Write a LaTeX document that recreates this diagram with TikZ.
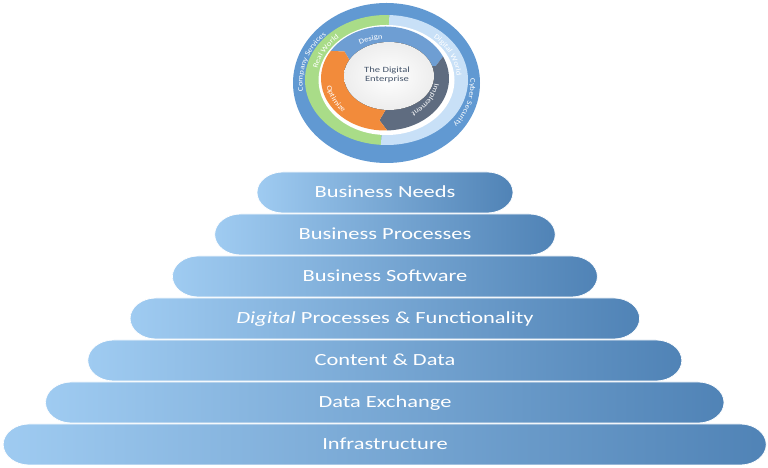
\documentclass[tikz,border=0pt]{standalone}
\usepackage{fontspec}
\setmainfont{Carlito}[FakeStretch=1.32]
\newfontfamily\ringfont{Carlito}[FakeStretch=1.2]
\usetikzlibrary{calc,decorations.text}
\definecolor{pl}{HTML}{9FCBF1}
\definecolor{pd}{HTML}{5083B6}
\definecolor{ringblue}{HTML}{6199D2}
\definecolor{ringgreen}{HTML}{A9DC88}
\definecolor{ringlight}{HTML}{C8E0F7}
\definecolor{designblue}{HTML}{6E9ED3}
\definecolor{implgrey}{HTML}{5F6C80}
\definecolor{optorange}{HTML}{F28B3B}
\definecolor{ctext}{HTML}{44546A}
\newcommand\procseg[3]{%
  \fill[#3] ($(pc)+(#1:64 and 52)$) arc[start angle=#1,end angle=#2,x radius=64,y radius=52]
    -- ($(pc)+({#2-8}:53 and 42)$) -- ($(pc)+(#2:40 and 30)$)
    arc[start angle=#2,end angle=#1,x radius=40,y radius=30]
    -- ($(pc)+({#1-8}:53 and 42)$) -- cycle;}
\begin{document}
\begin{tikzpicture}[x=1pt,y=1pt,
  pill/.style={left color=pl, right color=pd, draw=white, line width=0.7pt},
  layertext/.style={text=white, font=\fontsize{17}{20}\selectfont, inner sep=0pt, anchor=base},
  ringtext/.style={decorate, decoration={text along path, text align=center, text color=white,
      text={|\ringfont\fontsize{7.2}{8}\selectfont|#1}}}
]
\useasboundingbox (0,0) rectangle (768,468);

% pyramid layers
\foreach \k/\lab in {0/{Business Needs},1/{Business Processes},2/{Business Software},
  3/{\textit{Digital} Processes \& Functionality},4/{Content \& Data},5/{Data Exchange},6/{Infrastructure}}{
  \pgfmathsetmacro\L{257-42.3*\k}
  \pgfmathsetmacro\R{513+42.2*\k}
  \pgfmathsetmacro\T{468-172-42*\k}
  \pgfmathsetmacro\B{\T-41}
  \path[pill] (\L+26,\T) -- (\R-26,\T) arc[start angle=90,end angle=-90,x radius=26,y radius=20.5]
     -- (\L+26,\B) arc[start angle=270,end angle=90,x radius=26,y radius=20.5] -- cycle;
  \node[layertext] (layer\k) at (385,\T-26) {\lab};
}

% circle
\coordinate (oc) at (386.5,385);
\coordinate (gc) at (386.5,388);
\coordinate (pc) at (385,389.5);
\fill[ringblue] (oc) ellipse[x radius=93.5, y radius=80];
\fill[ringgreen] (gc) -- ($(gc)+(88:81.5 and 65)$) arc[start angle=88,end angle=266,x radius=81.5,y radius=65] -- cycle;
\fill[ringlight] (gc) -- ($(gc)+(-94:81.5 and 65)$) arc[start angle=-94,end angle=88,x radius=81.5,y radius=65] -- cycle;
\fill[white] (gc) ellipse[x radius=68, y radius=55];

\procseg{148}{25}{designblue}
\procseg{25}{-88}{implgrey}
\procseg{-88}{-212}{optorange}

\fill[inner color=white, outer color=gray!14] (389,392) ellipse[x radius=45, y radius=34];
\node[align=center, text=ctext, font=\fontsize{8}{9.6}\selectfont] (center) at (387,393) {The Digital\\Enterprise};

\path[ringtext={Company Services}] ($(oc)+(220:84 and 69)$) arc[start angle=220,end angle=106,x radius=84,y radius=69];
\path[ringtext={Cyber Security}] ($(oc)+(40:84 and 69)$) arc[start angle=40,end angle=-70,x radius=84,y radius=69];
\path[ringtext={Real World}] ($(gc)+(190:70.5 and 57)$) arc[start angle=190,end angle=114,x radius=70.5,y radius=57];
\path[ringtext={Digital World}] ($(gc)+(62:70.5 and 57)$) arc[start angle=62,end angle=-12,x radius=70.5,y radius=57];
\path[ringtext={Design}] ($(pc)+(140:50.5 and 39.5)$) arc[start angle=140,end angle=74,x radius=50.5,y radius=39.5];
\path[ringtext={Implement}] ($(pc)+(15:50 and 40)$) arc[start angle=15,end angle=-77,x radius=50,y radius=40];
\path[ringtext={Optimize}] ($(pc)+(160:59 and 48)$) arc[start angle=160,end angle=250,x radius=59,y radius=48];
\end{tikzpicture}
\end{document}
